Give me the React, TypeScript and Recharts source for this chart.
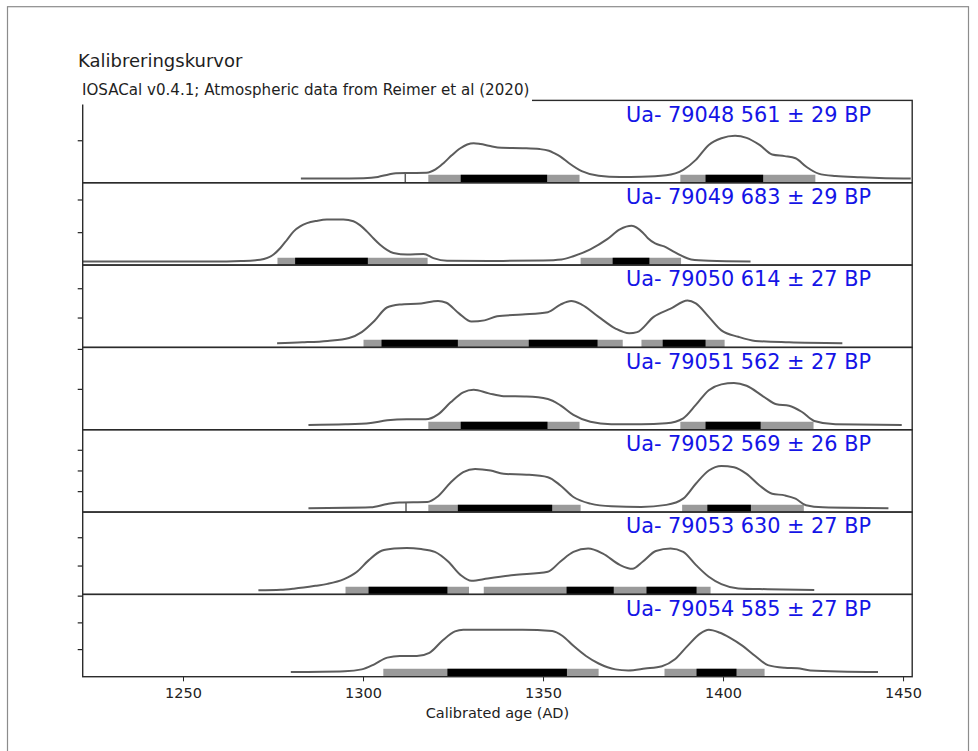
import React from 'react';
import { ComposedChart, Line, XAxis, YAxis, ReferenceArea, ReferenceLine } from 'recharts';

// shared calendar axis (AD)
const ageTicks = [1250, 1300, 1350, 1400, 1450];
const ageDomain = [1222, 1452.4];

// samples
const sampleIds = ['Ua- 79048', 'Ua- 79049', 'Ua- 79050', 'Ua- 79051', 'Ua- 79052', 'Ua- 79053', 'Ua- 79054'];
const bpAges = [561, 683, 614, 562, 569, 630, 585];
const bpErrors = [29, 29, 27, 27, 26, 27, 27];

// calibrated probability, per mille per year
const ua79048Years = [1282.6, 1292, 1300, 1304, 1307, 1309, 1313, 1317.5, 1320, 1322.2, 1324.5, 1326.9, 1328.8, 1330.6, 1332.5, 1334.8, 1338.3, 1344.2, 1348.9, 1351.5, 1353, 1354.7, 1357.1, 1360.6, 1365.3, 1371.2, 1377.1, 1384.1, 1388.8, 1392.3, 1395.9, 1399.4, 1403.2, 1406.4, 1410, 1413.5, 1417, 1420, 1422.9, 1426.4, 1431.1, 1438, 1445, 1452];
const ua79048Prob = [0.9, 0.9, 1.0, 1.3, 1.9, 2.2, 2.25, 2.3, 3.1, 4.6, 6.5, 8.2, 9.1, 9.4, 9.2, 8.8, 8.3, 8.2, 8.0, 7.6, 7.0, 6.2, 4.6, 2.7, 1.6, 1.3, 1.35, 1.7, 3.0, 5.4, 9.0, 10.6, 11.2, 10.7, 9.0, 6.7, 6.3, 5.8, 3.8, 2.1, 1.5, 1.2, 1.0, 0.9];

const ua79049Years = [1222, 1240, 1262, 1266, 1271.3, 1275, 1276.9, 1278.8, 1280.6, 1282.5, 1284.3, 1287, 1289.8, 1294.4, 1297.2, 1299, 1300.9, 1302.8, 1304.6, 1308.3, 1312.1, 1316.7, 1319.4, 1323.2, 1335, 1350, 1355, 1358.3, 1363, 1367.7, 1371.2, 1374.5, 1377.6, 1379, 1381, 1383.5, 1386, 1388, 1391, 1396, 1407.5];
const ua79049Prob = [1.2, 1.2, 1.2, 1.3, 1.7, 3.3, 5.3, 7.9, 10.4, 12.0, 12.9, 13.6, 14.0, 14.0, 13.5, 12.3, 10.4, 8.2, 6.3, 3.8, 3.3, 3.5, 2.2, 1.4, 1.35, 1.5, 1.8, 2.8, 4.9, 8.0, 11.0, 12.1, 10.0, 8.3, 6.7, 5.8, 4.3, 3.1, 1.8, 1.4, 1.2];

const ua79050Years = [1276, 1283, 1290, 1296, 1299.5, 1303, 1306.5, 1310, 1316, 1320.7, 1323, 1326.5, 1330, 1333.6, 1337.1, 1344.1, 1351.2, 1354.7, 1357.7, 1360.6, 1365.3, 1370, 1373.8, 1376, 1380.6, 1385.3, 1390, 1392.3, 1395.9, 1399.4, 1404.1, 1408.8, 1418.2, 1433];
const ua79050Prob = [0.7, 0.85, 1.1, 1.6, 2.6, 4.5, 6.8, 7.3, 7.5, 7.9, 7.6, 5.8, 4.4, 4.6, 5.3, 5.6, 6.0, 7.3, 7.9, 7.3, 5.2, 3.2, 2.4, 2.6, 5.2, 6.6, 8.0, 7.5, 5.2, 2.9, 1.8, 1.1, 0.85, 0.7];

const ua79051Years = [1284.7, 1295, 1302, 1306.6, 1312, 1317.3, 1320.7, 1324.2, 1327.7, 1330.6, 1334.8, 1338.9, 1345.3, 1351.2, 1354.7, 1358.3, 1363, 1368.8, 1377.1, 1384.1, 1388.8, 1392.3, 1395.9, 1399.4, 1402.9, 1406.4, 1411.1, 1414.7, 1418.2, 1421.7, 1425.2, 1431.1, 1449.5];
const ua79051Prob = [1.1, 1.25, 1.6, 2.25, 2.5, 2.5, 3.75, 6.75, 9.25, 9.9, 9.0, 8.3, 8.2, 7.6, 6.0, 3.6, 1.9, 1.3, 1.25, 1.5, 2.75, 6.1, 9.8, 11.25, 11.6, 10.9, 8.2, 6.25, 5.9, 4.4, 2.1, 1.25, 1.1];

const ua79052Years = [1284.7, 1302, 1306.6, 1310, 1317.7, 1320.7, 1324.2, 1327.7, 1331, 1335.3, 1338.9, 1345.3, 1351.2, 1354.7, 1358.3, 1363, 1368.8, 1377.1, 1384.1, 1388.8, 1392.3, 1395.9, 1399.4, 1402.9, 1406.4, 1410, 1413.5, 1417, 1420, 1422.9, 1427.6, 1445.8];
const ua79052Prob = [1.0, 1.2, 2.0, 2.4, 2.5, 3.9, 7.2, 9.7, 10.5, 10.1, 9.3, 9.1, 8.5, 6.5, 3.7, 2.1, 1.45, 1.3, 1.8, 3.3, 6.9, 10.1, 11.2, 10.9, 9.3, 6.5, 4.5, 4.1, 3.3, 1.7, 1.2, 1.0];

const ua79053Years = [1270.8, 1277, 1280.6, 1286.6, 1290, 1294.6, 1298, 1301.4, 1305, 1308.5, 1312, 1316, 1319.8, 1323.5, 1327, 1330, 1334.5, 1341.8, 1351.2, 1354.7, 1358.3, 1362.4, 1366.5, 1371.2, 1374.7, 1377.6, 1381.2, 1385.3, 1388.8, 1392.3, 1395.9, 1399.4, 1404.1, 1412.3, 1425.2];
const ua79053Prob = [0.7, 0.8, 1.0, 1.5, 1.85, 2.7, 3.9, 6.0, 7.7, 8.1, 8.2, 8.0, 7.5, 5.8, 3.4, 2.4, 2.8, 3.4, 4.0, 5.8, 7.5, 8.1, 7.2, 5.2, 4.5, 5.8, 7.65, 8.1, 7.5, 5.2, 3.1, 1.8, 1.05, 0.9, 0.75];

const ua79054Years = [1279.8, 1294.8, 1299.5, 1303, 1306.6, 1310.1, 1314.8, 1318.3, 1321.8, 1325.4, 1327.7, 1335.9, 1344.2, 1352.4, 1355.3, 1358.3, 1361.8, 1365.3, 1370, 1373.5, 1378.2, 1382.9, 1386.5, 1390, 1393.5, 1395.9, 1398.8, 1401.7, 1405.3, 1408.8, 1412.3, 1417, 1420.5, 1424.1, 1442.9];
const ua79054Prob = [0.8, 0.95, 1.3, 2.25, 3.5, 3.8, 3.8, 4.4, 6.6, 8.4, 8.7, 8.7, 8.7, 8.5, 7.55, 5.7, 3.8, 2.4, 1.3, 1.1, 1.45, 1.9, 3.2, 5.7, 8.0, 8.7, 8.2, 7.25, 5.7, 3.8, 2.1, 1.6, 1.5, 1.1, 0.8];

// 95.4 % and 68.2 % ranges (AD)
const ua79048Range95 = [[1318, 1360], [1388, 1425.5]];
const ua79048Range68 = [[1327, 1351], [1395, 1411]];
const ua79049Range95 = [[1276.1, 1317.8], [1360.3, 1388.2]];
const ua79049Range68 = [[1281, 1301.2], [1369.2, 1379.4]];
const ua79050Range95 = [[1300, 1372], [1377.2, 1400.3]];
const ua79050Range68 = [[1305, 1326.2], [1345.9, 1365], [1383.1, 1395]];
const ua79051Range95 = [[1318, 1360], [1388, 1425]];
const ua79051Range68 = [[1327, 1351.1], [1395, 1410.3]];
const ua79052Range95 = [[1318, 1360.3], [1388.5, 1422.3]];
const ua79052Range68 = [[1326.2, 1352.4], [1395.5, 1407.6]];
const ua79053Range95 = [[1295, 1329.3], [1333.4, 1396.4]];
const ua79053Range68 = [[1301.4, 1323.3], [1356.4, 1369.5], [1378.6, 1392.5]];
const ua79054Range95 = [[1305.5, 1365.3], [1383.6, 1411.4]];
const ua79054Range68 = [[1323.3, 1356.5], [1392.5, 1403.6]];

// small vertical step in the curve (year, probability) where present
const ua79048Step = [1311.6, 2.25];
const ua79052Step = [1311.8, 2.45];

// unlabeled y ticks (per mille)
const ua79048Ticks = [10];
const ua79049Ticks = [10, 20];
const ua79050Ticks = [5, 10];
const ua79051Ticks = [10, 20];
const ua79052Ticks = [5, 10, 15];
const ua79053Ticks = [5, 10];
const ua79054Ticks = [5, 10, 15];

// layout
const W = 978;
const H = 751;
const PLOT_LEFT = 82.7;
const PLOT_RIGHT = 912.2;
const FIRST_TOP = 100.4;
const PANEL_H = 82.33;
const AXIS_H = 30;
const LABEL_H = 25;
const BAR_PX = 7.5;
const FONT = 'DejaVu Sans';
const yTop = [19.8, 25.2, 14.05, 20.6, 19.9, 14.55, 15.4];

const panels = [
  { years: ua79048Years, prob: ua79048Prob, r95: ua79048Range95, r68: ua79048Range68, ticks: ua79048Ticks, step: ua79048Step },
  { years: ua79049Years, prob: ua79049Prob, r95: ua79049Range95, r68: ua79049Range68, ticks: ua79049Ticks, step: null },
  { years: ua79050Years, prob: ua79050Prob, r95: ua79050Range95, r68: ua79050Range68, ticks: ua79050Ticks, step: null },
  { years: ua79051Years, prob: ua79051Prob, r95: ua79051Range95, r68: ua79051Range68, ticks: ua79051Ticks, step: null },
  { years: ua79052Years, prob: ua79052Prob, r95: ua79052Range95, r68: ua79052Range68, ticks: ua79052Ticks, step: ua79052Step },
  { years: ua79053Years, prob: ua79053Prob, r95: ua79053Range95, r68: ua79053Range68, ticks: ua79053Ticks, step: null },
  { years: ua79054Years, prob: ua79054Prob, r95: ua79054Range95, r68: ua79054Range68, ticks: ua79054Ticks, step: null },
];

const panelTop = (i: number) => FIRST_TOP + i * PANEL_H;

const Panel = ({ i }: { i: number }) => {
  const p = panels[i];
  const data = p.years.map((year, j) => ({ year, prob: p.prob[j] }));
  const top = yTop[i];
  const barTop = (top * BAR_PX) / PANEL_H;
  const isLast = i === panels.length - 1;
  return (
    <ComposedChart
      width={W}
      height={PANEL_H + (isLast ? AXIS_H + LABEL_H : 0)}
      data={data}
      margin={{ top: 0, right: W - PLOT_RIGHT, bottom: isLast ? LABEL_H : 0, left: PLOT_LEFT - 1 }}
    >
      <XAxis
        type="number"
        dataKey="year"
        domain={ageDomain}
        allowDataOverflow
        ticks={ageTicks}
        hide={!isLast}
        height={AXIS_H}
        tickSize={5}
        tickMargin={6}
        axisLine={false}
        tickLine={{ stroke: '#222' }}
        tick={{ fill: '#222', fontSize: 14.5, fontFamily: FONT }}
        label={isLast ? { value: 'Calibrated age (AD)', position: 'bottom', offset: 1.5, fill: '#222', fontSize: 14.5, fontFamily: FONT } : undefined}
      />
      <YAxis
        type="number"
        domain={[0, top]}
        allowDataOverflow
        ticks={p.ticks}
        width={1}
        tickFormatter={() => ''}
        tickSize={5}
        axisLine={false}
        tickLine={{ stroke: '#222', strokeWidth: 1.2 }}
      />
      <Line type="monotone" dataKey="prob" stroke="#5c5c5c" strokeWidth={2} dot={false} isAnimationActive={false} />
      {p.step && (
        <ReferenceLine
          segment={[{ x: p.step[0], y: 0 }, { x: p.step[0], y: p.step[1] }]}
          stroke="#5c5c5c"
          strokeWidth={1.5}
        />
      )}
      {p.r95.map(([a, b], k) => (
        <ReferenceArea key={`g${k}`} x1={a} x2={b} y1={0} y2={barTop} fill="#9a9a9a" fillOpacity={1} stroke="none" />
      ))}
      {p.r68.map(([a, b], k) => (
        <ReferenceArea key={`b${k}`} x1={a} x2={b} y1={0} y2={barTop} fill="#000" fillOpacity={1} stroke="none" />
      ))}
    </ComposedChart>
  );
};

export default function App() {
  return (
    <div style={{ position: 'absolute', left: 0, top: 0, width: W, height: H, background: '#fff', overflow: 'hidden' }}>
      {panels.map((_, i) => (
        <div key={i} style={{ position: 'absolute', left: 0, top: panelTop(i) }}>
          <Panel i={i} />
        </div>
      ))}
      <svg width={W} height={H} style={{ position: 'absolute', left: 0, top: 0, pointerEvents: 'none' }}>
        <rect x={7.5} y={6.7} width={961} height={800} fill="none" stroke="#8c8c8c" strokeWidth={1.2} />
        <text x={78} y={66.7} fontFamily={FONT} fontSize={18} fill="#1e1e1e">Kalibreringskurvor</text>
        {panels.map((_, i) => (
          <rect key={i} x={PLOT_LEFT} y={panelTop(i)} width={PLOT_RIGHT - PLOT_LEFT} height={PANEL_H} fill="none" stroke="#2b2b2b" strokeWidth={1.4} />
        ))}
        <rect x={79} y={81} width={453} height={23.5} fill="#fff" />
        <text x={82} y={95.3} fontFamily={FONT} fontSize={15.1} fill="#1e1e1e">
          IOSACal v0.4.1; Atmospheric data from Reimer et al (2020)
        </text>
        {panels.map((_, i) => (
          <text key={i} x={871} y={panelTop(i) + 21.3} textAnchor="end" fontFamily={FONT} fontSize={20.8} fill="#1414e6">
            {`${sampleIds[i]} ${bpAges[i]} ± ${bpErrors[i]} BP`}
          </text>
        ))}
      </svg>
    </div>
  );
}
